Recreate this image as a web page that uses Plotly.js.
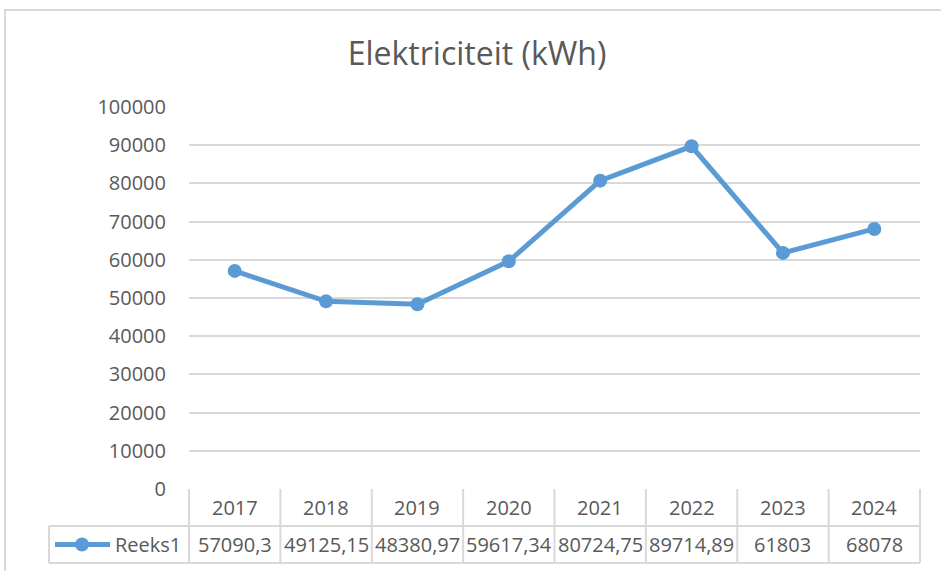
<!DOCTYPE html>
<html>
<head>
<meta charset="utf-8">
<script src="https://cdn.plot.ly/plotly-3.0.1.min.js"></script>
<style>
  html, body { margin: 0; padding: 0; background: #fff; overflow: hidden; }
  #chart { position: absolute; left: 0; top: 0; width: 941px; height: 571px; }
  #frame { position: absolute; left: 4px; top: 9px; width: 1000px; height: 700px;
           border-left: 2px solid #d9d9d9; border-top: 2px solid #d9d9d9; pointer-events: none; z-index: 10; }
</style>
</head>
<body>
<div id="chart"></div>
<div id="frame"></div>
<script>
// ---- data ----
const years = ['2017', '2018', '2019', '2020', '2021', '2022', '2023', '2024'];
const values = [57090.3, 49125.15, 48380.97, 59617.34, 80724.75, 89714.89, 61803, 68078];
const seriesName = 'Reeks1';
const chartTitle = 'Elektriciteit (kWh)';
const yTicks = [0, 10000, 20000, 30000, 40000, 50000, 60000, 70000, 80000, 90000, 100000];

// ---- style / layout constants ----
const W = 941, H = 571;
const M = { l: 189, r: 21, t: 107, b: 82 };
const plotW = W - M.l - M.r, plotH = H - M.t - M.b;
const px2x = p => (p - M.l) / plotW;          // pixel x -> paper x
const px2y = p => (H - M.b - p) / plotH;      // pixel y -> paper y
const blue = '#5B9BD5', txt = '#595959', grid = '#D9D9D9';
const FONT = 'Open Sans, Noto Sans, sans-serif';

const rowTop = px2y(489), rowMid = px2y(526), rowBot = px2y(563);
const tableLeft = px2x(49);
const n = years.length;

const shapes = [];
const lineStyle = { color: grid, width: 2 };
// horizontal table lines
shapes.push({ type: 'line', xref: 'paper', yref: 'paper', x0: tableLeft, x1: 1, y0: rowMid, y1: rowMid, line: lineStyle });
shapes.push({ type: 'line', xref: 'paper', yref: 'paper', x0: tableLeft, x1: 1, y0: rowBot, y1: rowBot, line: lineStyle });
// vertical column boundaries
for (let i = 0; i <= n; i++) {
  shapes.push({ type: 'line', xref: 'paper', yref: 'paper', x0: i / n, x1: i / n, y0: rowTop, y1: rowBot, line: lineStyle });
}
shapes.push({ type: 'line', xref: 'paper', yref: 'paper', x0: tableLeft, x1: tableLeft, y0: rowMid, y1: rowBot, line: lineStyle });
// legend key inside table
const keyY = (rowMid + rowBot) / 2;
shapes.push({ type: 'line', xref: 'paper', yref: 'paper', x0: px2x(55), x1: px2x(110), y0: keyY, y1: keyY,
  line: { color: blue, width: 5 } });
shapes.push({ type: 'circle', xref: 'paper', yref: 'paper', xsizemode: 'pixel', ysizemode: 'pixel',
  xanchor: px2x(82), yanchor: keyY, x0: -7, x1: 7, y0: -7, y1: 7,
  fillcolor: blue, line: { color: blue, width: 0 } });

const annotations = [];
const cellFont = { family: FONT, size: 20, color: txt };
// value row (one cell per category)
values.forEach((v, i) => {
  annotations.push({ xref: 'x', yref: 'paper', x: i, y: keyY, text: String(v).replace('.', ','),
    showarrow: false, xanchor: 'center', yanchor: 'middle', font: cellFont });
});
// series name
annotations.push({ xref: 'paper', yref: 'paper', x: px2x(113), y: keyY, text: seriesName, showarrow: false,
  xanchor: 'left', yanchor: 'middle', font: cellFont });
// header row (years)
const headY = (rowTop + rowMid) / 2;
years.forEach((yr, i) => {
  annotations.push({ xref: 'x', yref: 'paper', x: i, y: headY, text: yr, showarrow: false,
    xanchor: 'center', yanchor: 'middle', font: cellFont });
});

const trace = {
  type: 'scatter', mode: 'lines+markers', name: seriesName,
  x: years, y: values,
  line: { color: blue, width: 5 },
  marker: { color: blue, size: 14 },
  cliponaxis: false
};

const layout = {
  width: W, height: H,
  margin: M,
  paper_bgcolor: '#fff', plot_bgcolor: '#fff',
  showlegend: false,
  title: { text: chartTitle, font: { family: FONT, size: 32, color: txt },
           x: 477 / W, xanchor: 'center', xref: 'container', y: 1 - 54 / H, yanchor: 'middle', yref: 'container' },
  xaxis: { type: 'category', categoryarray: years, categoryorder: 'array', range: [-0.5, n - 0.5],
           showgrid: false, zeroline: false, showline: false,
           showticklabels: false, ticks: '', fixedrange: true },
  yaxis: { range: [0, 100000], tickvals: yTicks, ticktext: yTicks.map(String), showgrid: true, gridcolor: grid, gridwidth: 2,
           zeroline: false, showline: false, ticks: '', ticklabelstandoff: 22,
           tickfont: { family: FONT, size: 20, color: txt }, fixedrange: true },
  shapes: shapes,
  annotations: annotations
};

Plotly.newPlot('chart', [trace], layout, { displayModeBar: false, staticPlot: true });
</script>
</body>
</html>
